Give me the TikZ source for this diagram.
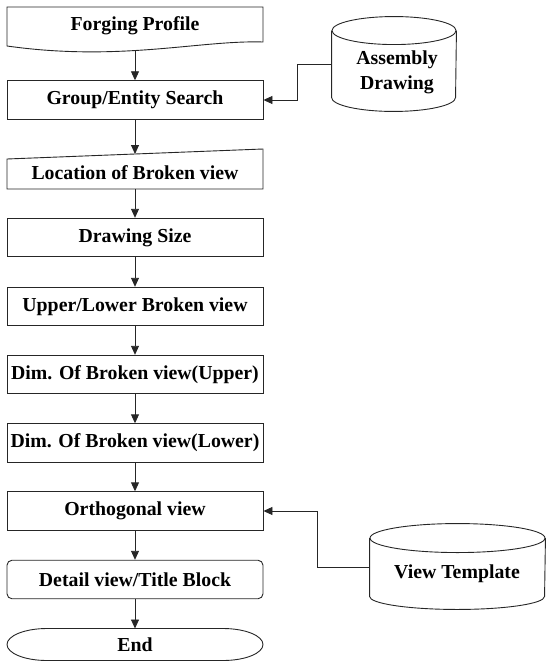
\documentclass[tikz,border=0pt]{standalone}
\usepackage{fontspec}
\setmainfont{Liberation Serif}[BoldFont={Liberation Serif Bold}]
\usetikzlibrary{arrows.meta}
\begin{document}
\begin{tikzpicture}[x=1pt,y=1pt,
  line width=0.9pt,
  txt/.style={font=\bfseries\fontsize{19.8}{25}\selectfont},
  proc/.style={draw=black!85, txt, minimum width=256pt, minimum height=38.5pt, inner sep=0pt},
  lbl/.style={txt, inner sep=0pt, align=center},
  outline/.style={draw=black!85},
  flow/.style={draw=black!85, -{Triangle[length=9pt,width=8pt]}}
]
\useasboundingbox (0,0) rectangle (546,-661);

% main column
\node[lbl] (forge) at (135,-26) {Forging Profile};
\draw[outline] (7,-7) -- (263,-7) -- (263,-42)
  .. controls (200,-40) and (120,-62) .. (7,-46) -- cycle;
\coordinate (forgebottom) at (135,-50);

\node[proc] (search) at (135,-100) {Group/Entity Search};

\node[lbl] (locate) at (135,-173) {Location of Broken view};
\draw[outline] (7,-159) -- (263,-149) -- (263,-189) -- (7,-189) -- cycle;
\coordinate (locatetop) at (135,-154);
\coordinate (locatebottom) at (135,-189);

\node[proc] (size) at (135,-237.5) {Drawing Size};
\node[proc] (updown) at (135,-306.5) {Upper/Lower Broken view};
\node[proc] (dimup) at (135,-374.5) {Dim. Of Broken view(Upper)};
\node[proc] (dimlow) at (135,-443) {Dim. Of Broken view(Lower)};
\node[proc] (ortho) at (135,-511) {Orthogonal view};
\node[proc, rounded corners=5pt] (detail) at (135,-579.5) {Detail view/Title Block};

% terminator
\node[lbl] (fin) at (135,-644.5) {End};
\draw[outline] (47,-628.5) -- (223,-628.5)
  arc[start angle=90, end angle=-90, x radius=40pt, y radius=16pt]
  -- (47,-660.5)
  arc[start angle=270, end angle=90, x radius=40pt, y radius=16pt] -- cycle;
\coordinate (fintop) at (135,-628.5);

% data stores
\node[inner sep=0pt, minimum width=124pt, minimum height=66pt] (asm) at (394,-64) {};
\draw[outline] (asm.north west) -- (asm.south west)
  arc[start angle=180, end angle=360, x radius=62pt, y radius=14pt] -- (asm.north east);
\draw[outline] (asm.north) ellipse[x radius=62pt, y radius=14pt];
\node[lbl] (asmtext) at (397,-72.5) {Assembly\\Drawing};

\node[inner sep=0pt, minimum width=175pt, minimum height=57.5pt] (tpl) at (457.5,-567.25) {};
\draw[outline] (tpl.north west) -- (tpl.south west)
  arc[start angle=180, end angle=360, x radius=87.5pt, y radius=13pt] -- (tpl.north east);
\draw[outline] (tpl.north) ellipse[x radius=87.5pt, y radius=14.5pt];
\node[lbl] (tpltext) at (457,-574) {View Template};

% connectors
\draw[flow] (forgebottom) -- (search.north);
\draw[flow] (search.south) -- (locatetop);
\draw[flow] (locatebottom) -- (size.north);
\draw[flow] (size.south) -- (updown.north);
\draw[flow] (updown.south) -- (dimup.north);
\draw[flow] (dimup.south) -- (dimlow.north);
\draw[flow] (dimlow.south) -- (ortho.north);
\draw[flow] (ortho.south) -- (detail.north);
\draw[flow] (detail.south) -- (fintop);

\coordinate (asmbend) at (297,-64);
\draw[flow] (asm.west) -- (asmbend) |- (search.east);
\coordinate (tplbend) at (317,-567.25);
\draw[flow] (tpl.west) -- (tplbend) |- (ortho.east);
\end{tikzpicture}
\end{document}
